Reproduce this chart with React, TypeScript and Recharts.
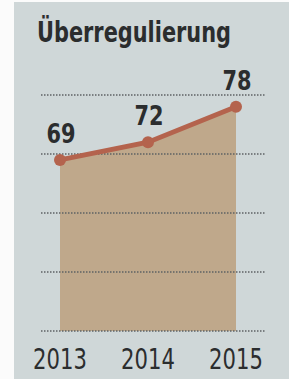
import React from 'react';
import {
  ComposedChart,
  Area,
  Line,
  XAxis,
  YAxis,
  ReferenceLine,
  LabelList
} from 'recharts';

const years = ['2013', '2014', '2015'];
const values = [69, 72, 78];
const gridTicks = [40, 50, 60, 70, 80];

const data = years.map((year, i) => ({ year, value: values[i] }));

const FONT = '"DejaVu Sans Condensed", "Liberation Sans", sans-serif';
const INK = '#2b2d2e';

// condensed look of the print font: squeeze horizontally
const YearTick = (props: any) => {
  const { x, y, payload } = props;
  return (
    <text
      transform={`translate(${x}, ${y + 22}) scale(0.84, 1)`}
      textAnchor="middle"
      fill={INK}
      fontSize={28}
      fontFamily={FONT}
    >
      {payload.value}
    </text>
  );
};

const ValueLabel = (props: any) => {
  const { x, y, width, value } = props;
  const cx = x + (width || 0) / 2;
  return (
    <text
      transform={`translate(${cx + 1}, ${y - 17}) scale(0.86, 1)`}
      textAnchor="middle"
      fill={INK}
      fontSize={27}
      fontWeight="bold"
      fontFamily={FONT}
    >
      {value}
    </text>
  );
};

export default function App() {
  return (
    <div style={{ position: 'absolute', left: 0, top: 0, width: 289, height: 379, background: '#fbfbfb', overflow: 'hidden' }}>
      <div style={{ position: 'absolute', left: 14, top: 2, width: 275, height: 377, background: '#cfd7d8' }} />
      <div
        style={{
          position: 'absolute',
          left: 37,
          top: 17,
          fontFamily: FONT,
          fontWeight: 'bold',
          fontSize: 29,
          lineHeight: '30px',
          color: INK,
          transform: 'scaleX(0.8)',
          transformOrigin: 'left top',
          whiteSpace: 'nowrap'
        }}
      >
        Überregulierung
      </div>
      <div style={{ position: 'absolute', left: 0, top: 0 }}>
        <ComposedChart width={289} height={379} data={data} margin={{ top: 95, right: 23, bottom: 0, left: 41 }}>
          <XAxis
            dataKey="year"
            height={48}
            axisLine={false}
            tickLine={false}
            padding={{ left: 19, right: 30 }}
            tickMargin={10}
            tick={<YearTick />}
          />
          <YAxis hide domain={[40, 80]} ticks={gridTicks} />
          <Area
            dataKey="value"
            type="linear"
            stroke="none"
            fill="#bfa88b"
            fillOpacity={1}
            isAnimationActive={false}
          />
          {gridTicks.map((t) => (
            <ReferenceLine key={t} y={t} stroke="#5f6264" strokeWidth={1.5} strokeDasharray="1.5 1.5" />
          ))}
          <Line
            dataKey="value"
            type="linear"
            stroke="#b4634d"
            strokeWidth={5}
            dot={{ r: 6, fill: '#b4634d', stroke: 'none' }}
            isAnimationActive={false}
          >
            <LabelList dataKey="value" content={<ValueLabel />} />
          </Line>
        </ComposedChart>
      </div>
    </div>
  );
}
